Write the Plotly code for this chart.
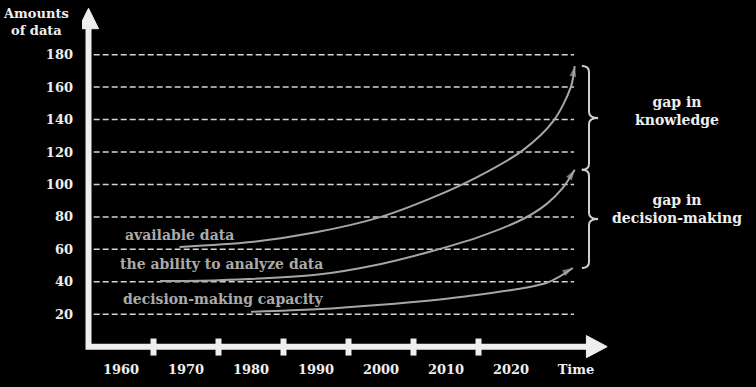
import plotly.graph_objects as go

# ---- data ----
avail_years = [1969, 1980, 1990, 2000, 2008, 2015, 2021.8, 2026.5, 2029.2, 2029.8]
avail_vals = [61.5, 64.5, 70.5, 80, 92, 105, 121, 139, 160, 173]
ability_years = [1966, 1975, 1990, 2000, 2007.5, 2015, 2022, 2025.5, 2028, 2029.8]
ability_vals = [40.5, 41, 44.3, 51, 58.5, 67.5, 79, 88, 98, 109]
decision_years = [1980, 1990, 2000, 2012.6, 2025.5, 2029.5]
decision_vals = [21.5, 23, 25.8, 30.8, 39.4, 48.5]

x_tick_vals = [1960, 1970, 1980, 1990, 2000, 2010, 2020, 2030]
x_tick_text = ["1960", "1970", "1980", "1990", "2000", "2010", "2020", "Time"]
y_tick_vals = [20, 40, 60, 80, 100, 120, 140, 160, 180]
axis_marks = [1965, 1975, 1985, 1995, 2005, 2015]

# ---- style ----
FONT = "DejaVu Serif"
WHITE = "#eeeeee"
CURVE = "#a6a6a6"
X0, X1 = 1954, 2036
Y0, Y1 = -7, 210
AX_X = 1955          # position of the vertical axis
GRID_X0, GRID_X1 = 1955.8, 2029.7

fig = go.Figure()

def add_curve(xs, ys):
    n = len(xs)
    fig.add_trace(go.Scatter(
        x=xs, y=ys, mode="lines+markers",
        line=dict(color=CURVE, width=2, shape="spline", smoothing=0.9),
        marker=dict(symbol="arrow", angleref="previous",
                    size=[0] * (n - 1) + [11], color=CURVE,
                    line=dict(width=0)),
        hoverinfo="skip", showlegend=False, cliponaxis=False))

add_curve(avail_years, avail_vals)
add_curve(ability_years, ability_vals)
add_curve(decision_years, decision_vals)

shapes = []
# dashed grid lines
for v in y_tick_vals:
    shapes.append(dict(type="line", xref="x", yref="y", x0=GRID_X0, x1=GRID_X1,
                       y0=v, y1=v, line=dict(color="#d4d4d4", width=1.5, dash="6px,3px"),
                       layer="below"))
# axes
shapes.append(dict(type="path", xref="x", yref="y",
                   path=f"M{AX_X},197 L{AX_X},0 L2032,0",
                   line=dict(color=WHITE, width=6)))
shapes.append(dict(type="path", xref="x", yref="y",
                   path=f"M{AX_X},208.6 L{AX_X-1.55},196 L{AX_X+1.55},196 Z",
                   fillcolor=WHITE, line=dict(color=WHITE, width=1)))
shapes.append(dict(type="path", xref="x", yref="y",
                   path="M2034.8,0 L2031.6,6.8 L2031.6,-6.8 Z",
                   fillcolor=WHITE, line=dict(color=WHITE, width=1)))
for m in axis_marks:
    shapes.append(dict(type="line", xref="x", yref="y", x0=m, x1=m, y0=-5.5, y1=5,
                       line=dict(color=WHITE, width=6)))

# curly braces between curve ends
def brace(ytop, ybot):
    xa, xm, xt = 2030.9, 2032.0, 2033.4
    r = 3.7
    ym = (ytop + ybot) / 2
    return (f"M{xa},{ytop} Q{xm},{ytop} {xm},{ytop-r} L{xm},{ym+r} "
            f"Q{xm},{ym} {xt},{ym} Q{xm},{ym} {xm},{ym-r} L{xm},{ybot+r} "
            f"Q{xm},{ybot} {xa},{ybot}")

shapes.append(dict(type="path", xref="x", yref="y", path=brace(avail_vals[-1], ability_vals[-1]),
                   line=dict(color="#d0d0d0", width=2)))
shapes.append(dict(type="path", xref="x", yref="y", path=brace(ability_vals[-1], decision_vals[-1]),
                   line=dict(color="#d0d0d0", width=2)))

def label(text, x, y, color, xanchor="center", ref="x"):
    return dict(text=text, xref="paper" if ref == "paper" else "x",
                yref="paper" if ref == "paper" else "y",
                x=x, y=y, xanchor=xanchor, yanchor="middle", align="center",
                showarrow=False, font=dict(family=FONT, size=14, color=color, weight="bold"))

annotations = [
    dict(text="Amounts<br>of data", xref="paper", yref="paper", x=-0.0863, y=0.954,
         xanchor="center", yanchor="middle", showarrow=False,
         font=dict(family=FONT, size=13, color=WHITE, weight="bold"), align="center"),
    label("available data", 1960.3, 69, "#aaaaaa", "left"),
    label("the ability to analyze data", 1959.5, 51, "#aaaaaa", "left"),
    label("decision-making capacity", 1960, 29.5, "#aaaaaa", "left"),
    label("gap in<br>knowledge", 1.1163, 0.7018, WHITE, "center", "paper"),
    label("gap in<br>decision-making", 1.1163, 0.4238, WHITE, "center", "paper"),
]

fig.update_layout(
    width=756, height=387,
    margin=dict(l=82, r=141, t=5.75, b=28.6),
    paper_bgcolor="black", plot_bgcolor="black",
    shapes=shapes, annotations=annotations,
    xaxis=dict(range=[X0, X1], tickvals=x_tick_vals, ticktext=x_tick_text,
               showgrid=False, zeroline=False, showline=False, ticks="",
               ticklabelstandoff=2,
               tickfont=dict(family=FONT, size=13, color=WHITE, weight="bold")),
    yaxis=dict(range=[Y0, Y1], tickvals=y_tick_vals,
               showgrid=False, zeroline=False, showline=False, ticks="",
               ticklabelstandoff=8,
               tickfont=dict(family=FONT, size=13, color=WHITE, weight="bold")),
)

fig.write_html("out.html", config={"displayModeBar": False},
               post_script="document.body.style.margin='0';document.body.style.background='black';")
